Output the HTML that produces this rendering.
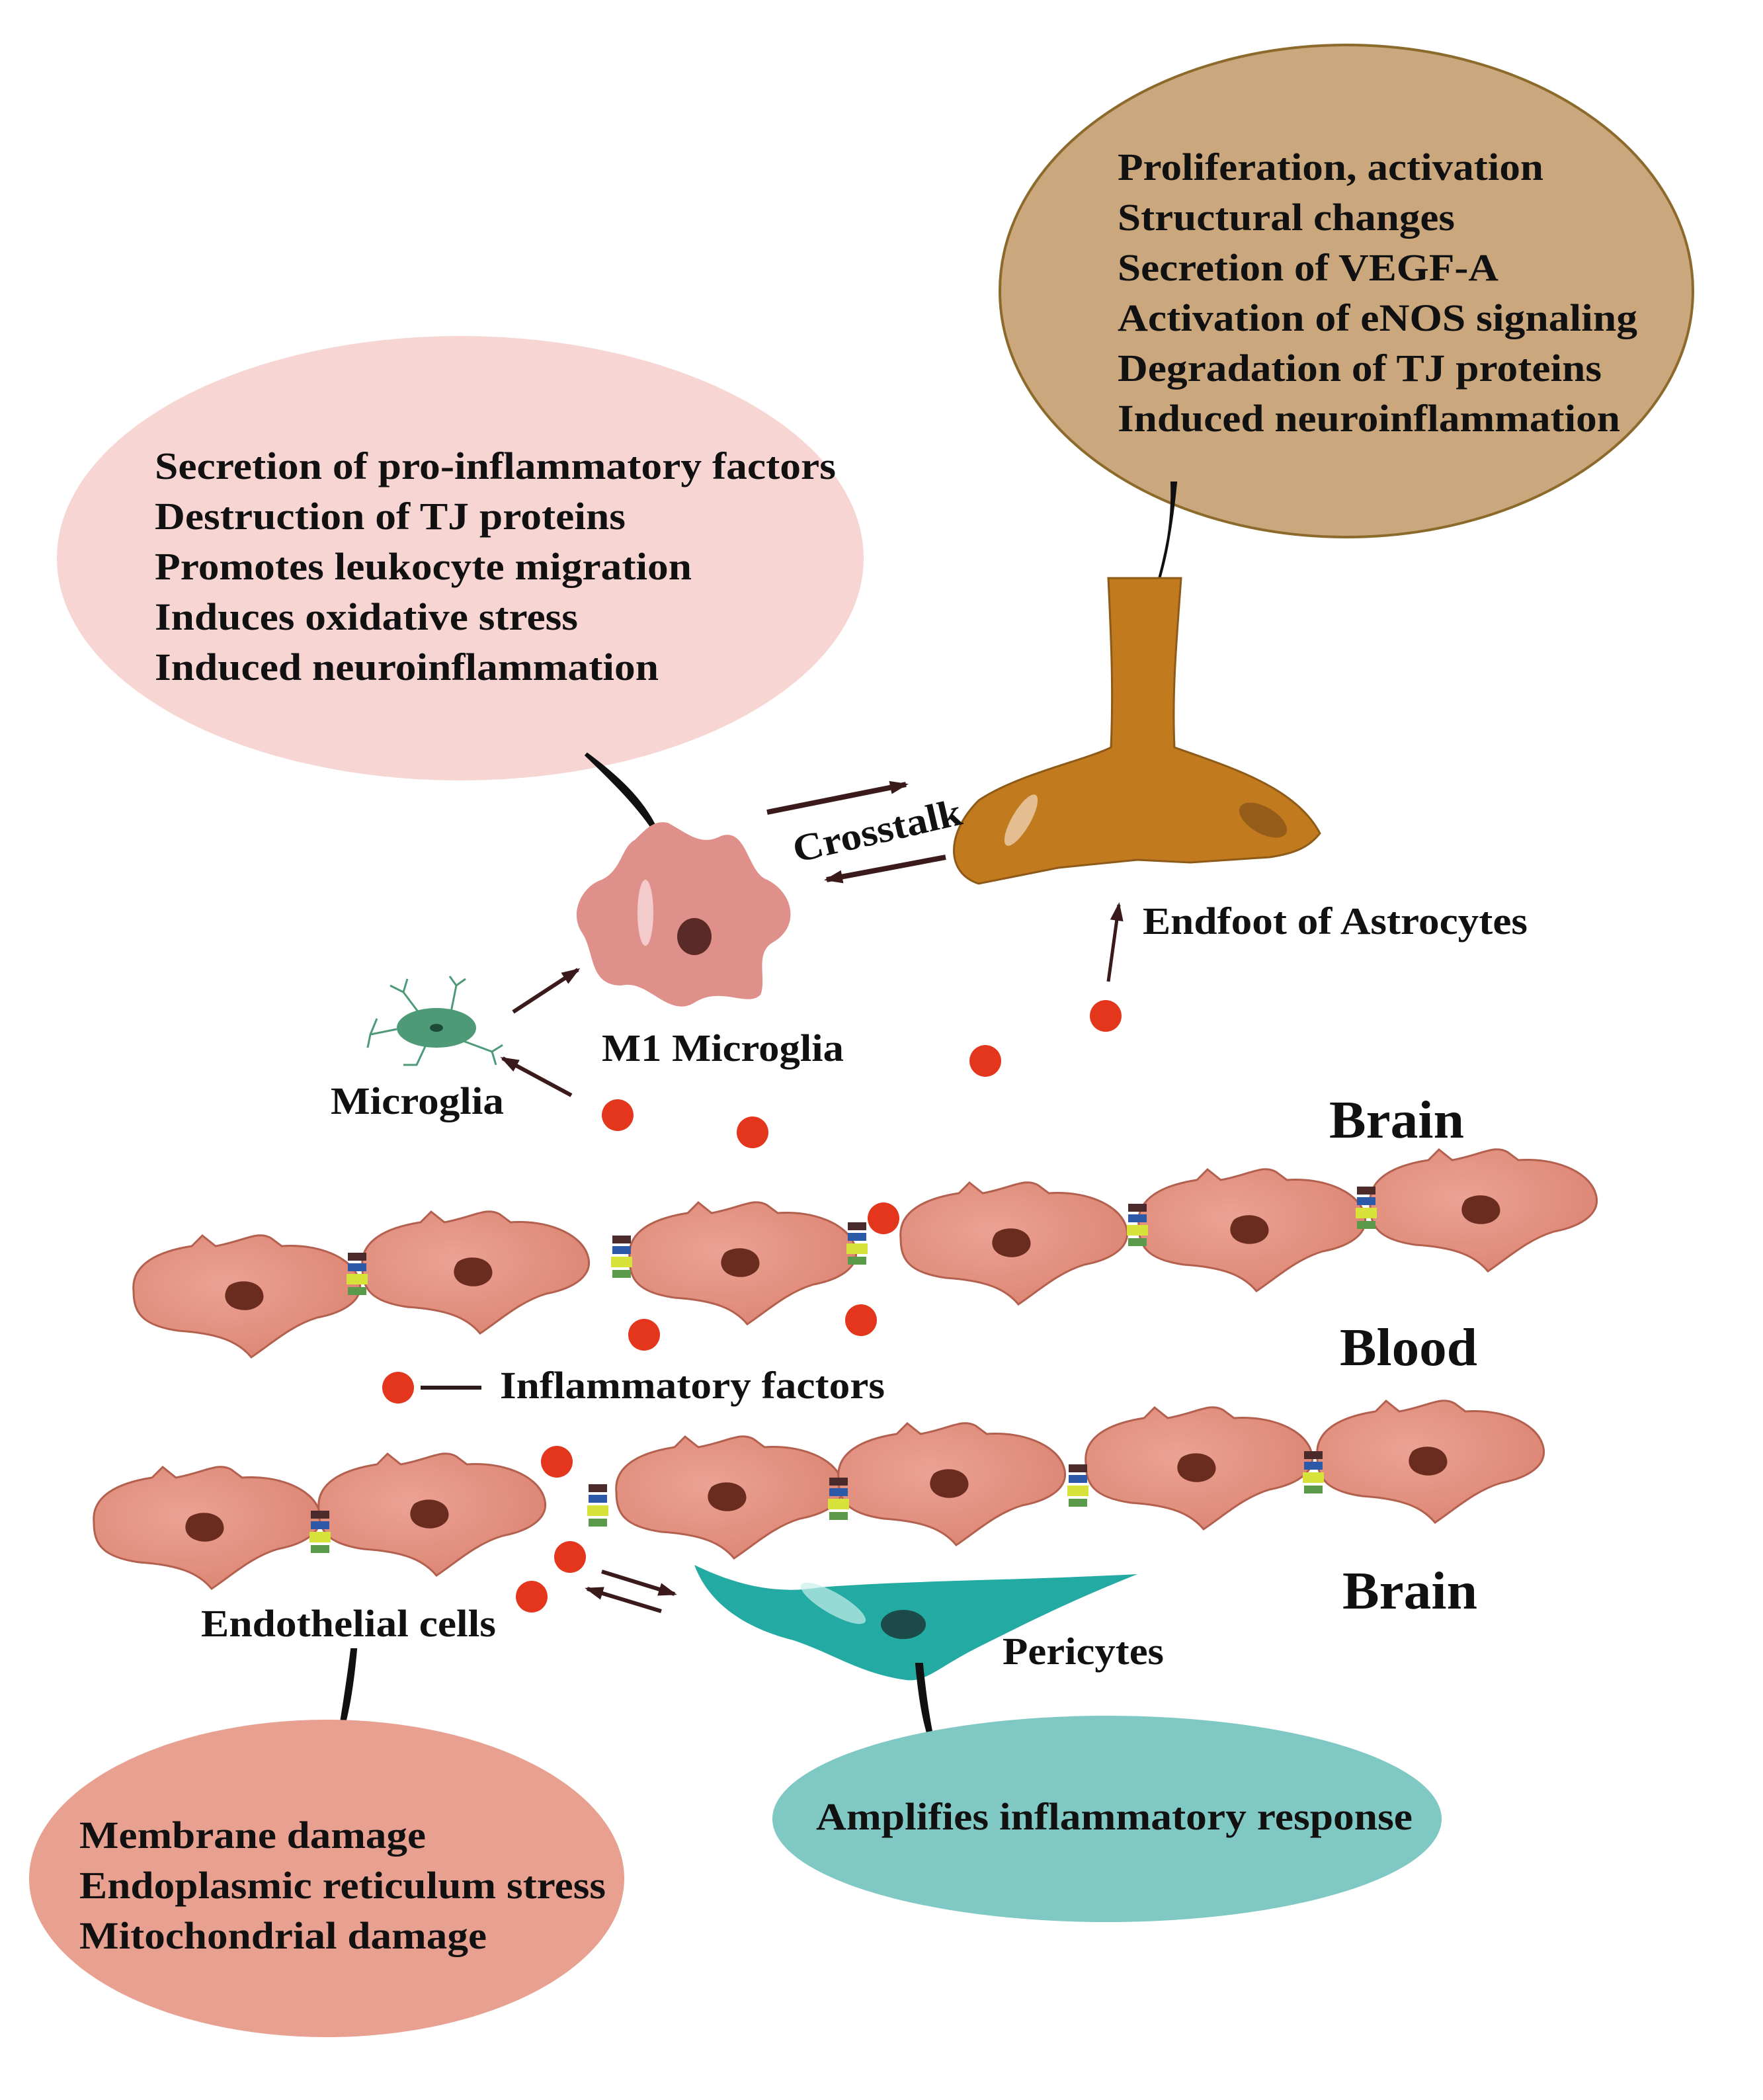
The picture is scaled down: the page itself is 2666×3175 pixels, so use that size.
<!DOCTYPE html>
<html><head><meta charset="utf-8"><style>
html,body{margin:0;padding:0;background:#fff;}
svg{display:block;}
text{font-family:"Liberation Serif",serif;font-weight:bold;fill:#111;}
</style></head><body>
<svg width="2666" height="3175" viewBox="0 0 1333 1587.5" xmlns="http://www.w3.org/2000/svg">
<defs>
<radialGradient id="cg" cx="0.4" cy="0.4" r="0.7"><stop offset="0" stop-color="#eba294"/><stop offset="1" stop-color="#dc8472"/></radialGradient>
<marker id="ah" markerWidth="14" markerHeight="10" refX="12" refY="5" orient="auto" markerUnits="userSpaceOnUse"><path d="M0,0 L14,5 L0,10 Z" fill="#3a1a1a"/></marker>
<g id="cell">
<path d="M-84,-4 C-86,-24 -66,-34 -40,-38 L-32,-46 L-22,-38 C0,-42 10,-50 20,-44 L28,-38 C55,-40 80,-30 86,-14 C92,2 76,12 55,16 C35,22 20,36 5,46 C-5,34 -20,28 -50,26 C-78,22 -84,12 -84,-4Z" fill="url(#cg)" stroke="#b3604f" stroke-width="1.5"/>
<path d="M-12,-8 C-4,-14 12,-12 14,-2 C16,6 6,12 -4,10 C-14,8 -18,0 -12,-8Z" fill="#6b2c20"/>
</g>
<g id="junc">
<rect x="-7" y="-18" width="14" height="6" fill="#4a2a2a"/>
<rect x="-7" y="-10" width="14" height="6" fill="#2c5aa8"/>
<rect x="-8" y="-2" width="16" height="8" fill="#d7e33a"/>
<rect x="-7" y="8" width="14" height="6" fill="#5a9a4a"/>
</g>
</defs>

<ellipse cx="1018" cy="220" rx="262" ry="186" fill="#caa77c" stroke="#8c6a2c" stroke-width="2"/>
<g font-size="29">
<text x="845" y="136" textLength="322" lengthAdjust="spacingAndGlyphs">Proliferation, activation</text>
<text x="845" y="174" textLength="255" lengthAdjust="spacingAndGlyphs">Structural changes</text>
<text x="845" y="212" textLength="288" lengthAdjust="spacingAndGlyphs">Secretion of VEGF-A</text>
<text x="845" y="250" textLength="393" lengthAdjust="spacingAndGlyphs">Activation of eNOS signaling</text>
<text x="845" y="288" textLength="366" lengthAdjust="spacingAndGlyphs">Degradation of TJ proteins</text>
<text x="845" y="326" textLength="380" lengthAdjust="spacingAndGlyphs">Induced neuroinflammation</text>
</g>
<path d="M889,365 C886,395 882,420 874,446 C882,420 887,395 886,365Z" fill="#111" stroke="#111" stroke-width="2"/>

<ellipse cx="348" cy="422" rx="305" ry="168" fill="#f7d5d3"/>
<g font-size="29">
<text x="117" y="362" textLength="515" lengthAdjust="spacingAndGlyphs">Secretion of pro-inflammatory factors</text>
<text x="117" y="400" textLength="356" lengthAdjust="spacingAndGlyphs">Destruction of TJ proteins</text>
<text x="117" y="438" textLength="406" lengthAdjust="spacingAndGlyphs">Promotes leukocyte migration</text>
<text x="117" y="476" textLength="320" lengthAdjust="spacingAndGlyphs">Induces oxidative stress</text>
<text x="117" y="514" textLength="381" lengthAdjust="spacingAndGlyphs">Induced neuroinflammation</text>
</g>
<path d="M443,570 C470,590 488,608 498,632 C484,610 466,592 443,570Z" stroke="#111" stroke-width="3" fill="#111"/>

<path d="M838,437 L893,437 C890,480 886,520 888,565 C930,580 980,595 998,630 C990,640 980,645 960,648 L900,652 L860,650 L800,656 L740,668 C715,660 715,630 740,605 C770,585 820,575 840,565 C842,520 840,480 838,437Z" fill="#c17a1e" stroke="#8e5a18" stroke-width="1.5"/>
<ellipse cx="772" cy="620" rx="7" ry="22" transform="rotate(30 772 620)" fill="#f2dcc0" opacity="0.7"/>
<ellipse cx="955" cy="620" rx="20" ry="10" transform="rotate(30 955 620)" fill="#7a4a18" opacity="0.6"/>

<line x1="580" y1="614" x2="685" y2="593" stroke="#3a1a1a" stroke-width="4" marker-end="url(#ah)"/>
<line x1="715" y1="648" x2="625" y2="665" stroke="#3a1a1a" stroke-width="4" marker-end="url(#ah)"/>
<text x="602" y="652" font-size="29" transform="rotate(-13 602 652)" textLength="130" lengthAdjust="spacingAndGlyphs">Crosstalk</text>

<path d="M505,622 C520,630 530,640 545,632 C565,625 565,660 580,665 C600,675 605,700 585,712 C570,720 580,740 575,752 C565,762 545,745 525,758 C505,770 490,740 470,745 C445,745 450,720 440,705 C430,690 440,670 455,665 C470,658 470,640 480,635 C490,625 495,620 505,622Z" fill="#e0908a"/>
<ellipse cx="488" cy="690" rx="6" ry="25" fill="#f6dada" opacity="0.8"/>
<ellipse cx="525" cy="708" rx="13" ry="14" fill="#5a2a28"/>
<text x="455" y="802" font-size="29" textLength="183" lengthAdjust="spacingAndGlyphs">M1 Microglia</text>

<g stroke="#4e9a78" stroke-width="1.5" fill="none">
<path d="M320,770 L305,750 L295,745 M305,750 L308,740"/>
<path d="M340,770 L345,745 L352,740 M345,745 L340,738"/>
<path d="M300,778 L280,782 L278,792 M280,782 L285,770"/>
<path d="M345,785 L372,795 L380,790 M372,795 L375,805"/>
<path d="M322,790 L315,805 L305,805"/>
</g>
<ellipse cx="330" cy="777" rx="30" ry="15" fill="#4e9a78"/>
<ellipse cx="330" cy="777" rx="5" ry="3" fill="#1e4a3a"/>
<text x="250" y="842" font-size="29" textLength="131" lengthAdjust="spacingAndGlyphs">Microglia</text>
<line x1="388" y1="765" x2="437" y2="733" stroke="#3a1a1a" stroke-width="3" marker-end="url(#ah)"/>
<line x1="432" y1="828" x2="380" y2="800" stroke="#3a1a1a" stroke-width="3" marker-end="url(#ah)"/>

<line x1="838" y1="742" x2="846" y2="684" stroke="#3a1a1a" stroke-width="2.5" marker-end="url(#ah)"/>
<text x="864" y="706" font-size="29" textLength="291" lengthAdjust="spacingAndGlyphs">Endfoot of Astrocytes</text>

<text x="1005" y="860" font-size="40" textLength="102" lengthAdjust="spacingAndGlyphs">Brain</text>
<text x="1013" y="1032" font-size="40" textLength="104" lengthAdjust="spacingAndGlyphs">Blood</text>
<text x="1015" y="1216" font-size="40" textLength="102" lengthAdjust="spacingAndGlyphs">Brain</text>

<use href="#cell" x="185" y="980"/>
<use href="#cell" x="358" y="962"/>
<use href="#cell" x="560" y="955"/>
<use href="#cell" x="765" y="940"/>
<use href="#cell" x="945" y="930"/>
<use href="#cell" x="1120" y="915"/>
<use href="#junc" x="270" y="965"/>
<use href="#junc" x="470" y="952"/>
<use href="#junc" x="648" y="942"/>
<use href="#junc" x="860" y="928"/>
<use href="#junc" x="1033" y="915"/>
<use href="#cell" x="155" y="1155"/>
<use href="#cell" x="325" y="1145"/>
<use href="#cell" x="550" y="1132"/>
<use href="#cell" x="718" y="1122"/>
<use href="#cell" x="905" y="1110"/>
<use href="#cell" x="1080" y="1105"/>
<use href="#junc" x="242" y="1160"/>
<use href="#junc" x="452" y="1140"/>
<use href="#junc" x="634" y="1135"/>
<use href="#junc" x="815" y="1125"/>
<use href="#junc" x="993" y="1115"/>

<g fill="#e3361c">
<circle cx="836" cy="768" r="12"/><circle cx="745" cy="802" r="12"/>
<circle cx="467" cy="843" r="12"/><circle cx="569" cy="856" r="12"/>
<circle cx="668" cy="921" r="12"/><circle cx="487" cy="1009" r="12"/>
<circle cx="651" cy="998" r="12"/><circle cx="301" cy="1049" r="12"/>
<circle cx="421" cy="1105" r="12"/><circle cx="431" cy="1177" r="12"/>
<circle cx="402" cy="1207" r="12"/>
</g>
<line x1="318" y1="1049" x2="364" y2="1049" stroke="#2a1a1a" stroke-width="3"/>
<text x="378" y="1057" font-size="29" textLength="291" lengthAdjust="spacingAndGlyphs">Inflammatory factors</text>

<path d="M525,1183 C560,1200 590,1205 620,1200 C680,1195 760,1195 860,1190 C810,1210 780,1225 740,1245 C710,1260 700,1272 685,1270 C650,1265 630,1250 600,1240 C560,1230 535,1210 525,1183Z" fill="#22aaa3"/>
<ellipse cx="630" cy="1212" rx="8" ry="28" transform="rotate(-60 630 1212)" fill="#c8eeea" opacity="0.7"/>
<ellipse cx="683" cy="1228" rx="17" ry="11" fill="#1c4a48"/>
<text x="758" y="1258" font-size="29" textLength="122" lengthAdjust="spacingAndGlyphs">Pericytes</text>
<line x1="455" y1="1188" x2="510" y2="1205" stroke="#3a1a1a" stroke-width="3" marker-end="url(#ah)"/>
<line x1="500" y1="1218" x2="444" y2="1201" stroke="#3a1a1a" stroke-width="3" marker-end="url(#ah)"/>

<text x="152" y="1237" font-size="29" textLength="223" lengthAdjust="spacingAndGlyphs">Endothelial cells</text>
<path d="M266,1247 C262,1280 258,1300 255,1322 C262,1300 266,1280 269,1247Z" fill="#111" stroke="#111" stroke-width="2"/>
<path d="M693,1258 C696,1290 700,1310 708,1328 C704,1310 700,1290 697,1258Z" fill="#111" stroke="#111" stroke-width="2"/>

<ellipse cx="247" cy="1420" rx="225" ry="120" fill="#e8a090"/>
<g font-size="29">
<text x="60" y="1397" textLength="262" lengthAdjust="spacingAndGlyphs">Membrane damage</text>
<text x="60" y="1435" textLength="398" lengthAdjust="spacingAndGlyphs">Endoplasmic reticulum stress</text>
<text x="60" y="1473" textLength="308" lengthAdjust="spacingAndGlyphs">Mitochondrial damage</text>
</g>
<ellipse cx="837" cy="1375" rx="253" ry="78" fill="#80c8c3"/>
<text x="617" y="1383" font-size="29" textLength="451" lengthAdjust="spacingAndGlyphs">Amplifies inflammatory response</text>
</svg>
</body></html>
